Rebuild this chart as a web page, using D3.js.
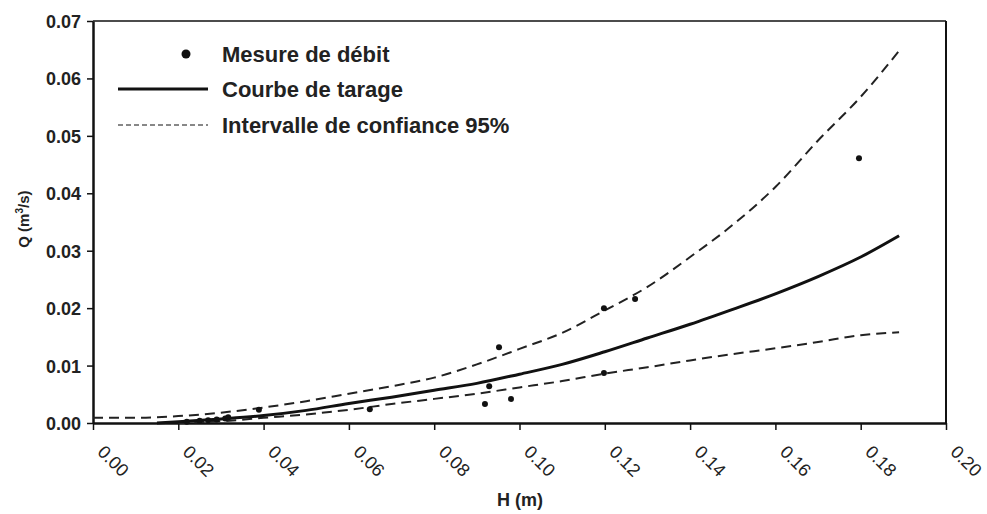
<!DOCTYPE html>
<html>
<head>
<meta charset="utf-8">
<script src="https://cdn.jsdelivr.net/npm/d3@7"></script>
<style>
    body { margin: 0; background: #fff; }
    svg { display: block; font-family: "Liberation Sans", Arial, sans-serif; }
</style>
</head>
<body>
<svg id="chart"></svg>
<script>
// tick values
const xTicks = [0, 0.02, 0.04, 0.06, 0.08, 0.10, 0.12, 0.14, 0.16, 0.18, 0.20];
const yTicks = [0, 0.01, 0.02, 0.03, 0.04, 0.05, 0.06, 0.07];

// measured discharges (H in m, Q in m3/s)
const mesureH = [0.022, 0.025, 0.027, 0.029, 0.031, 0.0317, 0.0389, 0.0649, 0.0919, 0.0929, 0.0952, 0.098, 0.1198, 0.1198, 0.1271, 0.1796];
const mesureQ = [0.0002, 0.0004, 0.0005, 0.0006, 0.0008, 0.0010, 0.0023, 0.0024, 0.0033, 0.0064, 0.0132, 0.0042, 0.0200, 0.0087, 0.0216, 0.0461];

// rating curve and 95% band
const courbeH = [0.015, 0.02, 0.03, 0.04, 0.05, 0.06, 0.07, 0.08, 0.09, 0.10, 0.11, 0.12, 0.13, 0.14, 0.15, 0.16, 0.17, 0.18, 0.189];
const courbeQ = [0.0000, 0.0002, 0.0007, 0.0013, 0.0022, 0.0034, 0.0045, 0.0057, 0.0069, 0.0085, 0.0102, 0.0124, 0.0148, 0.0172, 0.0198, 0.0225, 0.0255, 0.0289, 0.0326];

const hautH = [0.00, 0.01, 0.02, 0.03, 0.04, 0.05, 0.06, 0.07, 0.08, 0.09, 0.10, 0.11, 0.12, 0.13, 0.14, 0.15, 0.16, 0.17, 0.18, 0.189];
const hautQ = [0.0009, 0.0009, 0.0012, 0.0018, 0.0027, 0.0038, 0.0051, 0.0064, 0.0079, 0.0102, 0.0129, 0.0157, 0.0196, 0.0237, 0.0289, 0.0345, 0.0411, 0.0492, 0.0568, 0.0648];

const basH = [0.02, 0.03, 0.04, 0.05, 0.06, 0.07, 0.08, 0.09, 0.10, 0.11, 0.12, 0.13, 0.14, 0.15, 0.16, 0.17, 0.18, 0.189];
const basQ = [0.0000, 0.0003, 0.0009, 0.0015, 0.0023, 0.0033, 0.0042, 0.0051, 0.0062, 0.0073, 0.0086, 0.0097, 0.0109, 0.0120, 0.0130, 0.0141, 0.0153, 0.0158];

const legendItems = ["Mesure de débit", "Courbe de tarage", "Intervalle de confiance 95%"];

const width = 987, height = 514;
const margin = { top: 21, right: 41, bottom: 91, left: 93 };

const svg = d3.select("#chart")
    .attr("width", width)
    .attr("height", height);

const x = d3.scaleLinear()
    .domain([0, 0.20])
    .range([margin.left, width - margin.right]);

const y = d3.scaleLinear()
    .domain([0, 0.07])
    .range([height - margin.bottom, margin.top]);

const toPts = (hs, qs) => hs.map((h, i) => ({ h, q: qs[i] }));

const line = d3.line()
    .x(d => x(d.h))
    .y(d => y(d.q))
    .curve(d3.curveMonotoneX);

// frame: top and right borders
svg.append("line")
    .attr("x1", x(0)).attr("x2", x(0.20))
    .attr("y1", y(0.07)).attr("y2", y(0.07))
    .attr("stroke", "#111").attr("stroke-width", 1.5);
svg.append("line")
    .attr("x1", x(0.20)).attr("x2", x(0.20))
    .attr("y1", y(0.07)).attr("y2", y(0))
    .attr("stroke", "#111").attr("stroke-width", 2);

// y axis
const yAxis = svg.append("g")
    .attr("transform", `translate(${x(0)},0)`)
    .call(d3.axisLeft(y).tickValues(yTicks).tickFormat(d3.format(".2f")).tickSize(6).tickSizeOuter(0));
yAxis.select(".domain").attr("stroke", "#111").attr("stroke-width", 2.5);
yAxis.selectAll(".tick line").attr("stroke", "#111").attr("stroke-width", 1.5);
yAxis.selectAll(".tick text")
    .attr("x", -12)
    .attr("dy", "0.36em")
    .style("font-family", "'Liberation Sans', Arial, sans-serif")
    .style("font-size", "18px")
    .style("font-weight", "bold")
    .attr("fill", "#222");

// x axis
const xAxis = svg.append("g")
    .attr("transform", `translate(0,${y(0)})`)
    .call(d3.axisBottom(x).tickValues(xTicks).tickFormat(d3.format(".2f")).tickSize(7).tickSizeOuter(0));
xAxis.select(".domain").attr("stroke", "#111").attr("stroke-width", 2.5);
xAxis.selectAll(".tick line").attr("stroke", "#111").attr("stroke-width", 1.5);
xAxis.selectAll(".tick text")
    .attr("x", 0).attr("y", 0).attr("dy", 0)
    .attr("transform", "translate(3,30) rotate(45)")
    .style("text-anchor", "start")
    .style("font-family", "'Liberation Sans', Arial, sans-serif")
    .style("font-size", "18px")
    .attr("fill", "#222");

// axis titles
svg.append("text")
    .attr("x", 520).attr("y", 506)
    .attr("text-anchor", "middle")
    .style("font-size", "18px").style("font-weight", "bold")
    .attr("fill", "#222")
    .text("H (m)");

const yTitle = svg.append("text")
    .attr("transform", `translate(29,${y(0.0355)}) rotate(-90)`)
    .attr("text-anchor", "middle")
    .style("font-size", "15px").style("font-weight", "bold")
    .attr("fill", "#222");
yTitle.append("tspan").text("Q (m");
yTitle.append("tspan").attr("dy", -6).style("font-size", "10px").text("3");
yTitle.append("tspan").attr("dy", 6).text("/s)");

// confidence band
[toPts(hautH, hautQ), toPts(basH, basQ)].forEach(pts => {
    svg.append("path")
        .datum(pts)
        .attr("fill", "none")
        .attr("stroke", "#222")
        .attr("stroke-width", 2)
        .attr("stroke-dasharray", "10,6")
        .attr("d", line);
});

// rating curve
svg.append("path")
    .datum(toPts(courbeH, courbeQ))
    .attr("fill", "none")
    .attr("stroke", "#111")
    .attr("stroke-width", 3)
    .attr("d", line);

// measurements
svg.selectAll(".mesure")
    .data(toPts(mesureH, mesureQ))
    .enter().append("circle")
    .attr("class", "mesure")
    .attr("cx", d => x(d.h))
    .attr("cy", d => y(d.q))
    .attr("r", 3)
    .attr("fill", "#111");

// legend
const legend = svg.append("g");
const legY = [54, 89, 125];
legend.append("circle")
    .attr("cx", 186).attr("cy", legY[0]).attr("r", 4.5).attr("fill", "#111");
legend.append("line")
    .attr("x1", 118).attr("x2", 208).attr("y1", legY[1]).attr("y2", legY[1])
    .attr("stroke", "#111").attr("stroke-width", 3);
legend.append("line")
    .attr("x1", 118).attr("x2", 208).attr("y1", legY[2]).attr("y2", legY[2])
    .attr("stroke", "#111").attr("stroke-width", 1)
    .attr("stroke-dasharray", "5,3");
legend.selectAll(".leg-text")
    .data(legendItems)
    .enter().append("text")
    .attr("class", "leg-text")
    .attr("x", 222)
    .attr("y", (d, i) => legY[i] + 8)
    .style("font-size", "22px")
    .style("font-weight", "bold")
    .attr("fill", "#222")
    .text(d => d);
</script>
</body>
</html>
